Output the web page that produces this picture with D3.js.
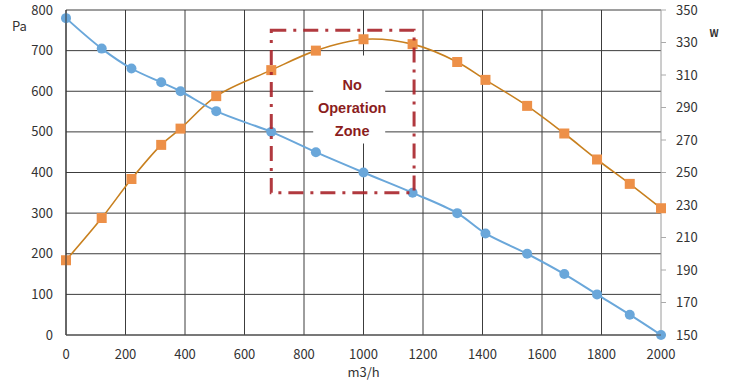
<!DOCTYPE html>
<html><head><meta charset="utf-8">
<script src="https://cdn.jsdelivr.net/npm/d3@7/dist/d3.min.js"></script>
<style>body{margin:0;background:#fff} svg{display:block}</style>
</head><body>
<svg id="chart" width="732" height="388"></svg>
<script>
// ---- data ----
const flow = [0,120,220,320,385,505,690,840,1000,1165,1315,1410,1550,1675,1785,1895,2000];
const pressure = [780,705,656,622,600,551,500,450,400,350,300,250,200,150,100,50,0];
const power = [196,222,246,267,277,297,313,325,332,329,318,307,291,274,258,243,228];
const xTicks = [0,200,400,600,800,1000,1200,1400,1600,1800,2000];
const paTicks = [0,100,200,300,400,500,600,700,800];
const wTicks = [150,170,190,210,230,250,270,290,310,330,350];
const zoneFlow = [690,1170];
const zonePa = [350,750];
const zoneLabel = ["No","Operation","Zone"];
const zoneLabelAt = [962,560];
const xTitle = "m3/h", yLeftTitle = "Pa", yRightTitle = "W";

// ---- layout ----
const svg = d3.select("#chart");
const L = 66, R = 661, T = 10, B = 335;
const x = d3.scaleLinear().domain([0,2000]).range([L,R]);
const yP = d3.scaleLinear().domain([0,800]).range([B,T]);
const yW = d3.scaleLinear().domain([150,350]).range([B,T]);
const font = "'Noto Sans CJK JP','Liberation Sans',sans-serif";

// grid
const g = svg.append("g");
g.selectAll("line.h").data(paTicks).join("line")
  .attr("x1",L).attr("x2",R).attr("y1",d=>yP(d)).attr("y2",d=>yP(d))
  .attr("stroke","#3c3c3c").attr("stroke-width",1);
g.selectAll("line.v").data(xTicks).join("line")
  .attr("x1",d=>x(d)).attr("x2",d=>x(d)).attr("y1",T).attr("y2",B)
  .attr("stroke",(d,i)=> i===xTicks.length-1 ? "#9a9a9a" : "#3c3c3c").attr("stroke-width",1);

// right axis ticks (outside)
g.selectAll("line.rt").data(wTicks).join("line")
  .attr("x1",R).attr("x2",R+5).attr("y1",d=>yW(d)).attr("y2",d=>yW(d))
  .attr("stroke","#aaa").attr("stroke-width",1);

// tick labels
svg.append("g").selectAll("text").data(paTicks).join("text")
  .attr("x",L-13).attr("y",d=>yP(d)).attr("dy","0.35em").attr("text-anchor","end")
  .attr("font-family",font).attr("font-size",13).attr("fill","#333").text(d=>d);
svg.append("g").selectAll("text").data(wTicks).join("text")
  .attr("x",R+15).attr("y",d=>yW(d)).attr("dy","0.35em").attr("text-anchor","start")
  .attr("font-family",font).attr("font-size",13).attr("fill","#333").text(d=>d);
svg.append("g").selectAll("text").data(xTicks).join("text")
  .attr("x",d=>x(d)).attr("y",B+24).attr("text-anchor","middle")
  .attr("font-family",font).attr("font-size",13).attr("fill","#333").text(d=>d);

// titles
svg.append("text").attr("x",12).attr("y",31).attr("font-family",font).attr("font-size",13).attr("fill","#333").text(yLeftTitle);
svg.append("text").attr("x",714).attr("y",37).attr("text-anchor","middle").attr("font-family",font).attr("font-size",10).attr("font-weight","bold").attr("fill","#333").text(yRightTitle);
svg.append("text").attr("x",x(1000)).attr("y",377).attr("text-anchor","middle").attr("font-family",font).attr("font-size",13).attr("fill","#333").text(xTitle);

// zone label with white background
const lx = x(zoneLabelAt[0]), ly = yP(zoneLabelAt[1]);
svg.append("rect").attr("x",lx-39).attr("y",ly-52).attr("width",72).attr("height",88).attr("fill","#fff");
svg.append("g").selectAll("text").data(zoneLabel).join("text")
  .attr("x",lx).attr("y",(d,i)=>ly+(i-1)*23).attr("dy","0.35em").attr("text-anchor","middle")
  .attr("font-family","'Liberation Sans',Arial,sans-serif").attr("font-weight","bold").attr("font-size",14.5)
  .attr("fill","#8b1d1d").text(d=>d);

// series
const idx = d3.range(flow.length);
const lineP = d3.line().x(i=>x(flow[i])).y(i=>yP(pressure[i])).curve(d3.curveCatmullRom.alpha(0.5));
const lineW = d3.line().x(i=>x(flow[i])).y(i=>yW(power[i])).curve(d3.curveCatmullRom.alpha(0.5));
svg.append("path").attr("d",lineW(idx)).attr("fill","none").attr("stroke","#c8801f").attr("stroke-width",1.6);
svg.append("path").attr("d",lineP(idx)).attr("fill","none").attr("stroke","#6aa7da").attr("stroke-width",2);
svg.append("g").selectAll("rect").data(idx).join("rect")
  .attr("x",i=>x(flow[i])-5).attr("y",i=>yW(power[i])-5).attr("width",10).attr("height",10)
  .attr("fill","#ed9048");
svg.append("g").selectAll("circle").data(idx).join("circle")
  .attr("cx",i=>x(flow[i])).attr("cy",i=>yP(pressure[i])).attr("r",5)
  .attr("fill","#6aa7da");

// axis spines
svg.append("line").attr("x1",L).attr("x2",L).attr("y1",T).attr("y2",B).attr("stroke","#333");
svg.append("line").attr("x1",L).attr("x2",R).attr("y1",B).attr("y2",B).attr("stroke","#555");

// no operation zone box
svg.append("rect").attr("x",x(zoneFlow[0])).attr("y",yP(zonePa[1]))
  .attr("width",x(zoneFlow[1])-x(zoneFlow[0])).attr("height",yP(zonePa[0])-yP(zonePa[1]))
  .attr("fill","none").attr("stroke","#a8242a").attr("stroke-opacity",0.9).attr("stroke-width",3)
  .attr("stroke-dasharray","15,7,3,7");
</script>
</body></html>
